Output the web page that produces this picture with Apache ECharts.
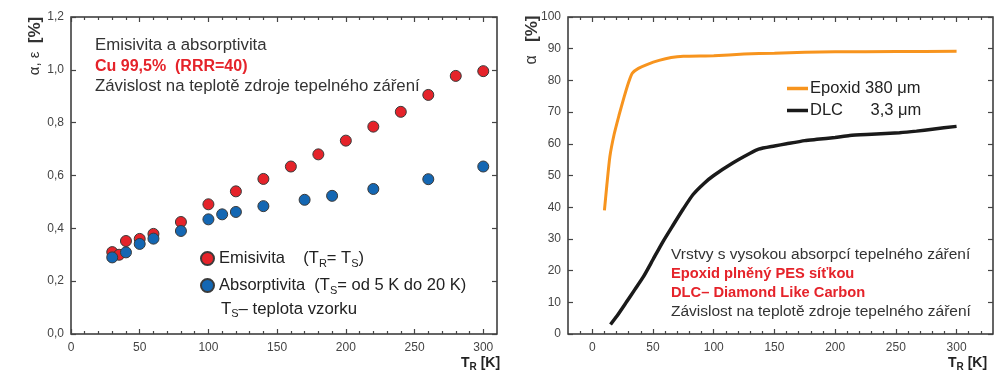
<!DOCTYPE html>
<html><head><meta charset="utf-8">
<script src="https://cdn.jsdelivr.net/npm/echarts@6/dist/echarts.min.js"></script>
<style>html,body{margin:0;padding:0;background:#fff}#c{width:995px;height:371px}</style>
</head><body><div id="c"></div>
<script>
// Left chart: emisivita / absorptivita of Cu 99,5%
const emisT = [30, 35, 40, 50, 60, 80, 100, 120, 140, 160, 180, 200, 220, 240, 260, 280, 300];
const emisV = [0.31, 0.30, 0.352, 0.36, 0.379, 0.424, 0.491, 0.54, 0.587, 0.634, 0.68, 0.732, 0.785, 0.841, 0.905, 0.977, 0.995];
const absT = [30, 40, 50, 60, 80, 100, 110, 120, 140, 170, 190, 220, 260, 300];
const absV = [0.29, 0.309, 0.341, 0.361, 0.39, 0.434, 0.453, 0.462, 0.484, 0.508, 0.523, 0.549, 0.586, 0.634];
// Right chart: absorption of layers
const epoxT = [10, 12, 14.5, 18, 22, 26, 30, 33, 38, 45, 55, 65, 75, 100, 125, 150, 175, 200, 250, 300];
const epoxV = [39, 47, 56, 63, 69, 74.5, 79.5, 82.3, 83.8, 85, 86.3, 87.2, 87.6, 87.8, 88.3, 88.6, 88.9, 89, 89.1, 89.2];
const dlcT = [15, 20, 28, 35, 42, 50, 58, 66, 75, 83, 92, 100, 116, 130, 137, 150, 160, 175, 185, 200, 212, 230, 253, 267, 280, 300];
const dlcV = [3, 5.5, 10, 14, 18, 23.5, 29, 34, 39.5, 44, 47.5, 50, 54, 57, 58.3, 59.3, 60, 61, 61.4, 62, 62.6, 63, 63.5, 64, 64.6, 65.5];
// tick labels
const leftXMajor = [0, 50, 100, 150, 200, 250, 300];
const leftXMinor = [10, 20, 30, 40, 60, 70, 80, 90, 110, 120, 130, 140, 160, 170, 180, 190, 210, 220, 230, 240, 260, 270, 280, 290];
const rightXMajor = [0, 50, 100, 150, 200, 250, 300];
const rightXMinor = [-10, 10, 20, 30, 40, 60, 70, 80, 90, 110, 120, 130, 140, 160, 170, 180, 190, 210, 220, 230, 240, 260, 270, 280, 290, 310, 320];

const FONT = '"Liberation Sans", Arial, sans-serif';
const AX = '#444';
const RED = '#e5232a';
const BLUE = '#1467b3';

function zip(a, b) { return a.map((v, i) => [v, b[i]]); }

function xAxesFor(gi, min, max, majors, minors) {
  const base = { type: 'value', gridIndex: gi, min, max, axisLine: { show: false, onZero: false }, splitLine: { show: false } };
  const tickStyle = { color: AX, width: 1.2 };
  return [
    Object.assign({}, base, { position: 'bottom',
      axisTick: { show: true, inside: true, length: 5, customValues: majors, lineStyle: tickStyle },
      axisLabel: { show: true, customValues: majors, color: AX, fontSize: 12, fontFamily: FONT, margin: 8 } }),
    Object.assign({}, base, { position: 'bottom',
      axisTick: { show: true, inside: true, length: 3, customValues: minors, lineStyle: tickStyle },
      axisLabel: { show: false } }),
    Object.assign({}, base, { position: 'top',
      axisTick: { show: true, inside: true, length: 5, customValues: majors, lineStyle: tickStyle },
      axisLabel: { show: false } }),
    Object.assign({}, base, { position: 'top',
      axisTick: { show: true, inside: true, length: 3, customValues: minors, lineStyle: tickStyle },
      axisLabel: { show: false } })
  ];
}
function yAxesFor(gi, min, max, interval, fmt) {
  const base = { type: 'value', gridIndex: gi, min, max, interval, axisLine: { show: false, onZero: false }, splitLine: { show: false } };
  const tickStyle = { color: AX, width: 1.2 };
  return [
    Object.assign({}, base, { position: 'left',
      axisTick: { show: true, inside: true, length: 5, lineStyle: tickStyle },
      axisLabel: { show: true, color: AX, fontSize: 12, fontFamily: FONT, margin: 7, formatter: fmt } }),
    Object.assign({}, base, { position: 'right',
      axisTick: { show: true, inside: true, length: 5, lineStyle: tickStyle },
      axisLabel: { show: false } })
  ];
}

const subRich = { sub: { fontSize: 11, fontFamily: FONT, color: '#222', padding: [10, 0, 0, 0] } };

const chart = echarts.init(document.getElementById('c'), null, { renderer: 'canvas' });
chart.setOption({
  animation: false,
  backgroundColor: '#fff',
  grid: [
    { left: 71, top: 17, width: 426, height: 317, show: true, borderColor: '#333', borderWidth: 1.5, backgroundColor: 'transparent' },
    { left: 568, top: 17, width: 425, height: 317, show: true, borderColor: '#333', borderWidth: 1.5, backgroundColor: 'transparent' }
  ],
  xAxis: [].concat(
    xAxesFor(0, 0, 310, leftXMajor, leftXMinor),
    xAxesFor(1, -20, 330, rightXMajor, rightXMinor)
  ),
  yAxis: [].concat(
    yAxesFor(0, 0, 1.2, 0.2, v => v.toFixed(1).replace('.', ',')),
    yAxesFor(1, 0, 100, 10, v => String(v))
  ),
  legend: [
    {
      orient: 'vertical', left: 195, top: 245, itemGap: 8, itemWidth: 13, itemHeight: 13,
      data: ['Emisivita', 'Absorptivita'],
      textStyle: { fontSize: 16.5, fontFamily: FONT, color: '#222', rich: subRich },
      formatter: function (n) {
        return n === 'Emisivita' ? 'Emisivita    (T{sub|R}= T{sub|S})' : 'Absorptivita  (T{sub|S}= od 5 K do 20 K)';
      }
    },
    {
      orient: 'vertical', left: 782, top: 75, itemGap: 5, itemWidth: 21, itemHeight: 3.5, icon: 'rect',
      data: ['Epoxid', 'DLC'],
      textStyle: { fontSize: 16.5, fontFamily: FONT, color: '#222', padding: [0, 0, 0, -3] },
      formatter: function (n) {
        return n === 'Epoxid' ? 'Epoxid 380 \u03bcm' : 'DLC      3,3 \u03bcm';
      }
    }
  ],
  series: [
    { name: 'Emisivita', type: 'scatter', xAxisIndex: 0, yAxisIndex: 0, data: zip(emisT, emisV), symbolSize: 11,
      itemStyle: { color: RED, borderColor: '#3a3a3a', borderWidth: 1, opacity: 1 } },
    { name: 'Absorptivita', type: 'scatter', xAxisIndex: 0, yAxisIndex: 0, data: zip(absT, absV), symbolSize: 11,
      itemStyle: { color: BLUE, borderColor: '#3a3a3a', borderWidth: 1, opacity: 1 } },
    { name: 'Epoxid', type: 'line', xAxisIndex: 4, yAxisIndex: 2, data: zip(epoxT, epoxV), showSymbol: false, symbol: 'none', smooth: 0.2,
      lineStyle: { color: '#f7941e', width: 3 }, itemStyle: { color: '#f7941e' } },
    { name: 'DLC', type: 'line', xAxisIndex: 4, yAxisIndex: 2, data: zip(dlcT, dlcV), showSymbol: false, symbol: 'none', smooth: 0.2,
      lineStyle: { color: '#1a1a1a', width: 3.5 }, itemStyle: { color: '#1a1a1a' } }
  ],
  graphic: [
    // axis titles
    { type: 'text', x: 35, y: 46, rotation: Math.PI / 2, style: { text: '\u03b1, \u03b5  {b|[%]}', font: '15px ' + FONT, fill: '#333', align: 'center', verticalAlign: 'middle',
      rich: { b: { fontWeight: 'bold', fontSize: 17, fontFamily: FONT, fill: '#333' } } } },
    { type: 'text', x: 532, y: 40, rotation: Math.PI / 2, style: { text: '\u03b1   {b|[%]}', font: '16px ' + FONT, fill: '#333', align: 'center', verticalAlign: 'middle',
      rich: { b: { fontWeight: 'bold', fontSize: 17, fontFamily: FONT, fill: '#333' } } } },
    { type: 'text', x: 461, y: 363, style: { text: 'T{s|R} [K]', font: 'bold 14px ' + FONT, fill: '#222', verticalAlign: 'middle',
      rich: { s: { fontSize: 10, fontWeight: 'bold', fontFamily: FONT, fill: '#222', padding: [9, 0, 0, 0] } } } },
    { type: 'text', x: 948, y: 363, style: { text: 'T{s|R} [K]', font: 'bold 14px ' + FONT, fill: '#222', verticalAlign: 'middle',
      rich: { s: { fontSize: 10, fontWeight: 'bold', fontFamily: FONT, fill: '#222', padding: [9, 0, 0, 0] } } } },
    // left text block
    { type: 'text', x: 95, y: 45, style: { text: 'Emisivita a absorptivita', font: '16.8px ' + FONT, fill: '#333', verticalAlign: 'middle' } },
    { type: 'text', x: 95, y: 67, style: { text: 'Cu 99,5%  (RRR=40)', font: 'bold 16px ' + FONT, fill: RED, verticalAlign: 'middle' } },
    { type: 'text', x: 95, y: 86, style: { text: 'Závislost na teplotě zdroje tepelného záření', font: '16.8px ' + FONT, fill: '#333', verticalAlign: 'middle' } },
    { type: 'text', x: 221, y: 309, style: { text: 'T{sub|S}\u2013 teplota vzorku', font: '16.8px ' + FONT, fill: '#222', verticalAlign: 'middle', rich: subRich } },
    // right text block
    { type: 'text', x: 671, y: 255, style: { text: 'Vrstvy s vysokou absorpcí tepelného záření', font: '15.5px ' + FONT, fill: '#333', verticalAlign: 'middle' } },
    { type: 'text', x: 671, y: 274, style: { text: 'Epoxid plněný PES síťkou', font: 'bold 14.7px ' + FONT, fill: RED, verticalAlign: 'middle' } },
    { type: 'text', x: 671, y: 293, style: { text: 'DLC\u2013 Diamond Like Carbon', font: 'bold 14.7px ' + FONT, fill: RED, verticalAlign: 'middle' } },
    { type: 'text', x: 671, y: 312, style: { text: 'Závislost na teplotě zdroje tepelného záření', font: '15.5px ' + FONT, fill: '#333', verticalAlign: 'middle' } }
  ]
});
</script></body></html>
